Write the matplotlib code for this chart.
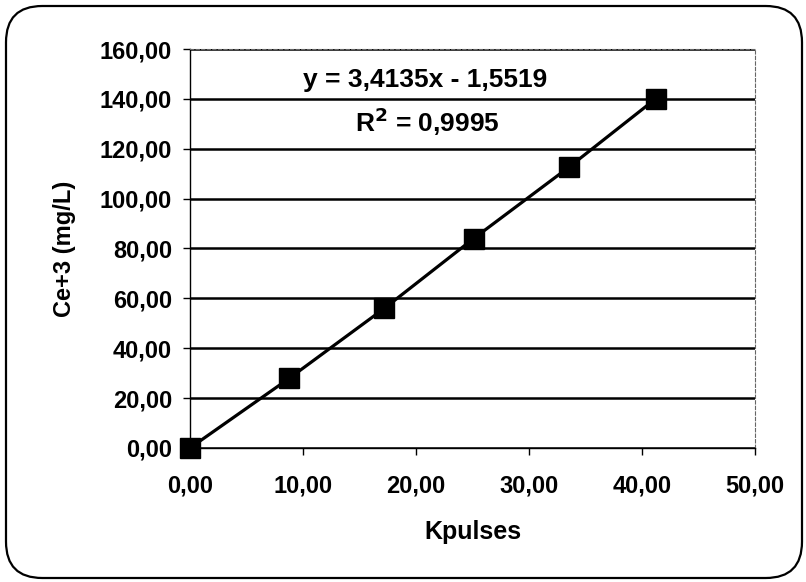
import matplotlib
matplotlib.use("Agg")
import matplotlib.pyplot as plt
from matplotlib.patches import FancyBboxPatch
from matplotlib.ticker import FuncFormatter

kpulses = [0.0, 8.8, 17.2, 25.1, 33.5, 41.2]
ce3 = [0.0, 28.0, 56.0, 84.0, 112.5, 140.0]
x_ticks = [0, 10, 20, 30, 40, 50]
y_ticks = [0, 20, 40, 60, 80, 100, 120, 140, 160]
equation = "y = 3,4135x - 1,5519"
r2_text = "R$^2$ = 0,9995"

plt.rcParams['font.family'] = ['Liberation Sans', 'DejaVu Sans']
plt.rcParams['font.weight'] = 'bold'
plt.rcParams['mathtext.default'] = 'bf'

fig = plt.figure(figsize=(8.06, 5.82), dpi=100)
frame = FancyBboxPatch((6/806, 4/582), 796/806, 572/582,
                       boxstyle="round,pad=0,rounding_size=0.045",
                       transform=fig.transFigure, fill=False,
                       edgecolor='black', linewidth=1.6, mutation_aspect=806/582)
fig.patches.append(frame)

ax = fig.add_axes([190/806, 1 - 448/582, 565/806, 399/582])
ax.set_xlim(0, 50)
ax.set_ylim(0, 160)
ax.set_xticks(x_ticks)
ax.set_yticks(y_ticks)
fmt = FuncFormatter(lambda v, p: f"{v:.2f}".replace('.', ','))
ax.xaxis.set_major_formatter(fmt)
ax.yaxis.set_major_formatter(fmt)

ax.yaxis.grid(True, color='black', linewidth=1.8)
ax.set_axisbelow(True)
for s in ['top', 'right']:
    ax.spines[s].set_linestyle((0, (3, 2)))
    ax.spines[s].set_color('#666666')
    ax.spines[s].set_linewidth(0.8)
ax.spines['left'].set_linewidth(1.0)
ax.spines['bottom'].set_linewidth(1.0)

ax.plot(kpulses, ce3, color='black', linewidth=2.3, marker='s',
        markersize=14, markerfacecolor='black', markeredgecolor='black',
        clip_on=False, zorder=5)

ax.tick_params(axis='both', labelsize=17, length=5, width=1, direction='out')
ax.tick_params(axis='x', pad=14)
ax.tick_params(axis='y', pad=8)
for lbl in ax.get_xticklabels() + ax.get_yticklabels():
    lbl.set_fontweight('bold')

ax.set_xlabel("Kpulses", fontsize=18, fontweight='bold', labelpad=16)
ax.set_ylabel("Ce+3 (mg/L)", fontsize=17, fontweight='bold', labelpad=17)

fig.text(425/806, 1 - 80/582, equation, fontsize=19, fontweight='bold',
         ha='center', va='center')
fig.text(427/806, 1 - 122/582, r2_text, fontsize=19, fontweight='bold',
         ha='center', va='center')

fig.savefig("out.png", dpi=100)
